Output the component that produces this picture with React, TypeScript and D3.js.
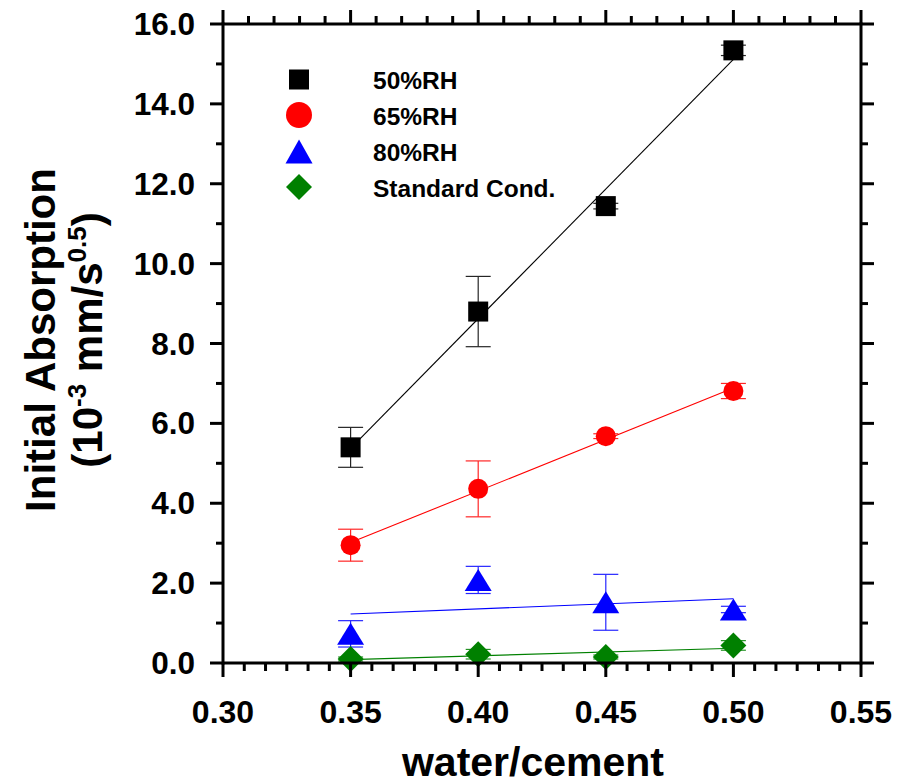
import React from "react";
import * as d3 from "d3";

const wc = [0.35, 0.4, 0.45, 0.5];
const rh50 = [5.4, 8.8, 11.44, 15.34];
const err50 = [0.5, 0.88, 0.07, 0.13];
const rh65 = [2.95, 4.36, 5.68, 6.81];
const err65 = [0.4, 0.7, 0.06, 0.19];
const rh80 = [0.73, 2.08, 1.52, 1.34];
const err80 = [0.33, 0.34, 0.7, 0.08];
const stdc = [0.1, 0.22, 0.15, 0.44];
const errStd = [0.05, 0.12, 0.05, 0.12];

const seriesNames = ["50%RH", "65%RH", "80%RH", "Standard Cond."];
const xTicks = [0.3, 0.35, 0.4, 0.45, 0.5, 0.55];
const yTicks = [0, 2, 4, 6, 8, 10, 12, 14, 16];

const W = 910, H = 784;
const x = d3.scaleLinear().domain([0.3, 0.55]).range([223, 861]);
const y = d3.scaleLinear().domain([0, 16]).range([663, 24]);

const FONT = "'Liberation Sans', Arial, Helvetica, sans-serif";

type Shape = "square" | "circle" | "triangle" | "diamond";
const series = [
  { name: seriesNames[0], vals: rh50, errs: err50, color: "#000000", shape: "square" as Shape },
  { name: seriesNames[1], vals: rh65, errs: err65, color: "#ff0000", shape: "circle" as Shape },
  { name: seriesNames[2], vals: rh80, errs: err80, color: "#0000ff", shape: "triangle" as Shape },
  { name: seriesNames[3], vals: stdc, errs: errStd, color: "#008000", shape: "diamond" as Shape },
];

function fit(xs: number[], ys: number[]) {
  const mx = d3.mean(xs)!, my = d3.mean(ys)!;
  let sxy = 0, sxx = 0;
  xs.forEach((v, i) => { sxy += (v - mx) * (ys[i] - my); sxx += (v - mx) * (v - mx); });
  const b = sxy / sxx;
  const a = my - b * mx;
  return (v: number) => a + b * v;
}

function Marker({ shape, cx, cy, color, legend }: { shape: Shape; cx: number; cy: number; color: string; legend?: boolean }) {
  if (shape === "square") return <rect x={cx - 10} y={cy - 10} width={20} height={20} fill={color} />;
  if (shape === "circle") return <circle cx={cx} cy={cy} r={legend ? 13 : 10} fill={color} />;
  if (shape === "triangle") {
    const hw = 13.5, hh = legend ? 12 : 11;
    return <path d={`M${cx},${cy - hh}L${cx + hw},${cy + hh}L${cx - hw},${cy + hh}Z`} fill={color} />;
  }
  const r = 13;
  return <path d={`M${cx},${cy - r}L${cx + r},${cy}L${cx},${cy + r}L${cx - r},${cy}Z`} fill={color} />;
}

export default function App() {
  const xMinor: number[] = [];
  for (let i = 0; i < 5; i++) for (let k = 1; k < 6; k++) xMinor.push(0.3 + i * 0.05 + (k * 0.05) / 6);
  const xTopMinor: number[] = [];
  for (let i = 0; i < 5; i++) for (let k = 1; k < 5; k++) xTopMinor.push(0.3 + i * 0.05 + (k * 0.05) / 5);
  const yMinor = d3.range(1, 16, 2);

  const x0 = x.range()[0], x1 = x.range()[1];
  const y0 = y.range()[0], y1 = y.range()[1];
  const sw = 3;

  const legendBase = [89, 124.5, 161, 196.5];

  return (
    <div style={{ position: "absolute", left: 0, top: 0 }}>
      <svg width={W} height={H} style={{ display: "block" }} fontFamily={FONT}>
        <rect width={W} height={H} fill="#fff" />
        {/* fit lines */}
        {series.map((s) => {
          const f = fit(wc, s.vals);
          const xa = wc[0], xb = wc[wc.length - 1];
          return <line key={s.name} x1={x(xa)} y1={y(f(xa))} x2={x(xb)} y2={y(f(xb))} stroke={s.color} strokeWidth={1.1} />;
        })}
        {/* error bars */}
        {series.map((s) => (
          <g key={s.name + "e"} stroke={s.color} strokeWidth={1.2} opacity={0.85}>
            {wc.map((w, i) => {
              const cx = x(w), t = y(s.vals[i] + s.errs[i]), b = y(s.vals[i] - s.errs[i]);
              return (
                <g key={i}>
                  <line x1={cx} x2={cx} y1={t} y2={b} />
                  <line x1={cx - 12.5} x2={cx + 12.5} y1={t} y2={t} />
                  <line x1={cx - 12.5} x2={cx + 12.5} y1={b} y2={b} />
                </g>
              );
            })}
          </g>
        ))}
        {/* markers */}
        {series.map((s) => (
          <g key={s.name + "m"}>
            {wc.map((w, i) => <Marker key={i} shape={s.shape} cx={x(w)} cy={y(s.vals[i])} color={s.color} />)}
          </g>
        ))}
        {/* legend */}
        {series.map((s, i) => (
          <g key={s.name + "l"}>
            <Marker shape={s.shape} cx={299} cy={legendBase[i] - 9.5} color={s.color} legend />
            <text x={373} y={legendBase[i]} fontSize={24.5} fontWeight="bold" fill="#000">{s.name}</text>
          </g>
        ))}
        {/* axes frame */}
        <g stroke="#000" strokeWidth={sw} strokeLinecap="butt">
          <line x1={x0} x2={x1} y1={y0} y2={y0} />
          <line x1={x0} x2={x1} y1={y1} y2={y1} />
          <line x1={x0} x2={x0} y1={y1 - 1.5} y2={y0 + 1.5} />
          <line x1={x1} x2={x1} y1={y1 - 1.5} y2={y0 + 1.5} />
          {xTicks.map((t) => (
            <g key={"xt" + t}>
              <line x1={x(t)} x2={x(t)} y1={y0} y2={y0 + 14} />
              <line x1={x(t)} x2={x(t)} y1={y1} y2={y1 - 14} />
            </g>
          ))}
          {xMinor.map((t, i) => <line key={"xm" + i} x1={x(t)} x2={x(t)} y1={y0} y2={y0 + 8} />)}
          {xTopMinor.map((t, i) => <line key={"xtm" + i} x1={x(t)} x2={x(t)} y1={y1} y2={y1 - 8} />)}
          {yTicks.map((t) => (
            <g key={"yt" + t}>
              <line x1={x0} x2={x0 - 13} y1={y(t)} y2={y(t)} />
              <line x1={x1} x2={x1 + 13} y1={y(t)} y2={y(t)} />
            </g>
          ))}
          {yMinor.map((t) => (
            <g key={"ym" + t}>
              <line x1={x0} x2={x0 - 7} y1={y(t)} y2={y(t)} />
              <line x1={x1} x2={x1 + 7} y1={y(t)} y2={y(t)} />
            </g>
          ))}
        </g>
        {/* tick labels */}
        {xTicks.map((t) => (
          <text key={"xl" + t} x={x(t)} y={723} textAnchor="middle" fontSize={32} fontWeight="bold">{d3.format(".2f")(t)}</text>
        ))}
        {yTicks.map((t) => (
          <text key={"yl" + t} x={195} y={y(t) + 11} textAnchor="end" fontSize={31.5} fontWeight="bold">{d3.format(".1f")(t)}</text>
        ))}
        {/* titles */}
        <text x={533} y={776} textAnchor="middle" fontSize={41} fontWeight="bold">water/cement</text>
        <g transform="translate(55,340) rotate(-90)">
          <text x={0} y={0} textAnchor="middle" fontSize={42} fontWeight="bold">Initial Absorption</text>
        </g>
        <g transform="translate(102,340) rotate(-90)">
          <text x={0} y={0} textAnchor="middle" fontSize={42} fontWeight="bold">
            (10<tspan fontSize={26} dy={-16}>-3</tspan>
            <tspan dy={16}> mm/s</tspan>
            <tspan fontSize={26} dy={-16}>0.5</tspan>
            <tspan dy={16}>)</tspan>
          </text>
        </g>
      </svg>
    </div>
  );
}
